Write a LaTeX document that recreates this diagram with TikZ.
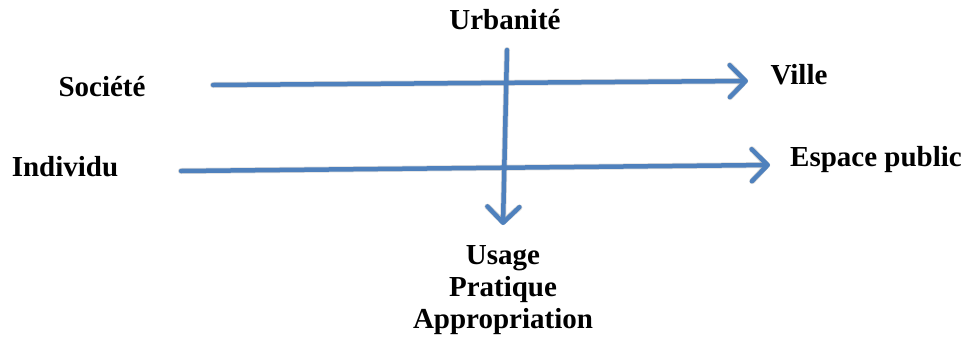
\documentclass[tikz,border=0pt]{standalone}
\usepackage{fontspec}
\setmainfont{Liberation Serif}
\usetikzlibrary{arrows.meta}
\definecolor{arrblue}{HTML}{4F81BD}
\begin{document}
\begin{tikzpicture}[x=1pt,y=-1pt,
  lbl/.style={font=\fontsize{29}{33}\selectfont\bfseries, inner sep=0pt, align=center},
  arr/.style={draw=arrblue, line width=4.5pt, line cap=round, line join=round,
    -{Straight Barb[length=16pt,width=32pt,line cap=round,line join=round]}},
  shad/.style={draw=black, opacity=0.15, line width=6pt, line cap=round, line join=round,
    -{Straight Barb[length=15pt,width=32pt,line cap=round,line join=round]}}]
\useasboundingbox (0,0) rectangle (965,338);
\node[lbl] (soc) at (102,87) {Société};
\node[lbl] (ind) at (65,167) {Individu};
\node[lbl] (urb) at (505,20) {Urbanité};
\node[lbl] (vil) at (799,75) {Ville};
\node[lbl] (esp) at (876,160) {Espace public};
\node[lbl, align=center] (usa) at (503,290) {Usage\\[-1pt]Pratique\\[-1pt]Appropriation};
\coordinate (s1) at (213,85);
\coordinate (s2) at (748,81);
\coordinate (i1) at (181,171);
\coordinate (i2) at (770,165);
\coordinate (u1) at (507,50);
\coordinate (u2) at (503,225);
\begin{scope}[shift={(2,4)}]
\draw[shad] (s1) -- (s2);
\draw[shad] (i1) -- (i2);
\draw[shad] (u1) -- (u2);
\end{scope}
\draw[arr] (s1) -- (s2);
\draw[arr] (i1) -- (i2);
\draw[arr] (u1) -- (u2);
\end{tikzpicture}
\end{document}
